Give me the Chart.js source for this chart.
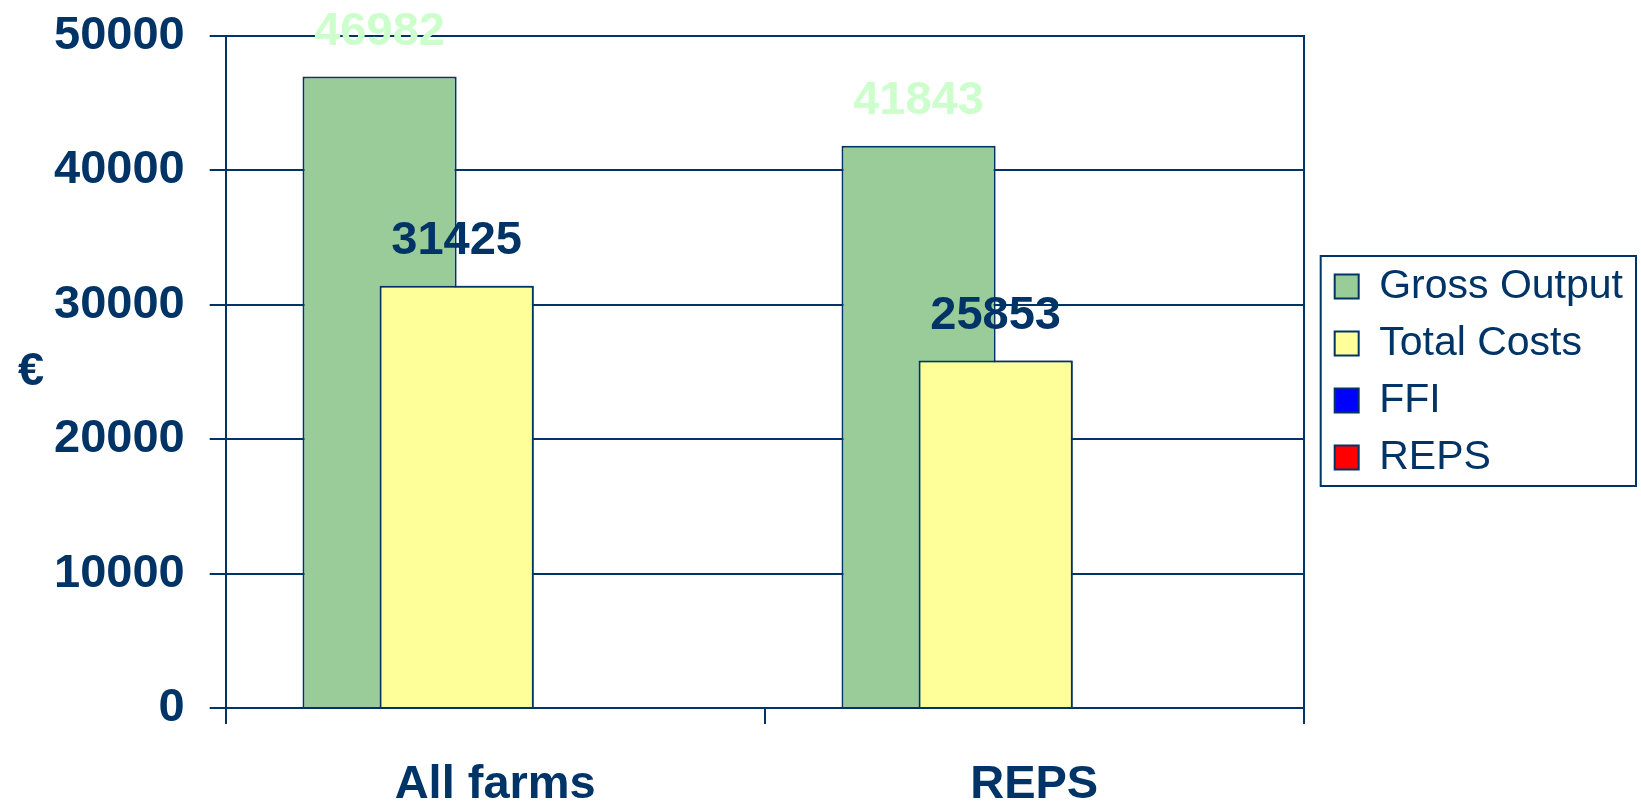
<!DOCTYPE html>
<html>
<head>
<meta charset="utf-8">
<script src="https://cdn.jsdelivr.net/npm/chart.js@4.4.0/dist/chart.umd.min.js"></script>
<style>
  body { margin: 0; background: #fff; }
</style>
</head>
<body>
<canvas id="myChart" width="1641" height="803"></canvas>
<script>
var categories = ['All farms', 'REPS'];
var grossOutput = [46982, 41843];
var totalCosts = [31425, 25853];
var ffi = [null, null];
var reps = [null, null];
var yTicks = [0, 10000, 20000, 30000, 40000, 50000];
var yUnit = '€';

var navy = '#003366';
var fontFam = '"Liberation Sans", Arial, sans-serif';

// value labels, yellow bars on top, euro sign and legend frame
const extras = {
  id: 'extras',
  afterDatasetsDraw(chart) {
    const ctx = chart.ctx;
    chart.getDatasetMeta(1).data.forEach(b => b.draw(ctx));
    ctx.save();
    ctx.font = 'bold 47px ' + fontFam;
    ctx.textAlign = 'center';
    ctx.textBaseline = 'alphabetic';
    [[0, '#CCFFCC'], [1, navy]].forEach(function (p) {
      const i = p[0];
      chart.getDatasetMeta(i).data.forEach(function (bar, j) {
        ctx.fillStyle = p[1];
        ctx.fillText(String(chart.data.datasets[i].data[j]), bar.x, bar.y - 32);
      });
    });
    ctx.restore();
  },
  afterDraw(chart) {
    const ctx = chart.ctx;
    const area = chart.chartArea;
    ctx.save();
    ctx.fillStyle = navy;
    ctx.font = 'bold 47px ' + fontFam;
    ctx.textAlign = 'center';
    ctx.textBaseline = 'middle';
    ctx.fillText(yUnit, chart.scales.y.left + 2, (area.top + area.bottom) / 2);

    const boxes = chart.legend.legendHitBoxes;
    let l = Infinity, r = -Infinity;
    boxes.forEach(function (b) {
      l = Math.min(l, b.left);
      r = Math.max(r, b.left + b.width);
    });
    const t = boxes[0].top - 10;
    const btm = boxes[boxes.length - 1].top + boxes[boxes.length - 1].height + 8;
    ctx.strokeStyle = navy;
    ctx.lineWidth = 2;
    ctx.strokeRect(l - 14, t, (r + 13) - (l - 14), btm - t);
    ctx.restore();
  }
};

const data = {
  labels: categories,
  datasets: [
    { label: 'Gross Output', data: grossOutput, backgroundColor: '#99CC99' },
    { label: 'Total Costs', data: totalCosts, backgroundColor: '#FFFF99' },
    { label: 'FFI', data: ffi, backgroundColor: '#0000FF' },
    { label: 'REPS', data: reps, backgroundColor: '#FF0000' }
  ]
};
data.datasets.forEach(function (d) {
  d.borderColor = navy;
  d.borderWidth = 2;
  d.barPercentage = 2;
  d.categoryPercentage = 0.572;
});

const config = {
  type: 'bar',
  data: data,
  options: {
    responsive: false,
    animation: false,
    layout: { padding: { left: 29, top: 36, right: 8, bottom: -43 } },
    plugins: {
      tooltip: { enabled: false },
      legend: {
        position: 'right',
        fullSize: false,
        maxWidth: 400,
        labels: {
          color: navy,
          font: { family: fontFam, size: 41 },
          boxWidth: 24,
          boxHeight: 24,
          padding: 16
        }
      }
    },
    scales: {
      x: {
        grid: { drawOnChartArea: false, color: navy, lineWidth: 2, tickLength: 16, offset: true },
        border: { color: navy, width: 2 },
        ticks: { color: navy, padding: 37.5, font: { family: fontFam, size: 47, weight: 'bold', lineHeight: 1 } }
      },
      y: {
        min: 0,
        max: 50000,
        afterBuildTicks: function (scale) {
          scale.ticks = yTicks.map(function (v) { return { value: v }; });
        },
        grid: { color: navy, lineWidth: 2, tickLength: 16 },
        border: { color: navy, width: 2 },
        ticks: {
          color: navy,
          padding: 25,
          font: { family: fontFam, size: 47, weight: 'bold', lineHeight: 0.45 },
          callback: function (v) { return String(v); }
        }
      },
      y2: {
        position: 'right',
        grid: { drawOnChartArea: false, tickLength: 15, tickColor: 'rgba(0,0,0,0)' },
        border: { color: navy, width: 2 },
        ticks: { display: false }
      }
    }
  },
  plugins: [extras]
};

var myChart = new Chart(document.getElementById('myChart'), config);
</script>
</body>
</html>
